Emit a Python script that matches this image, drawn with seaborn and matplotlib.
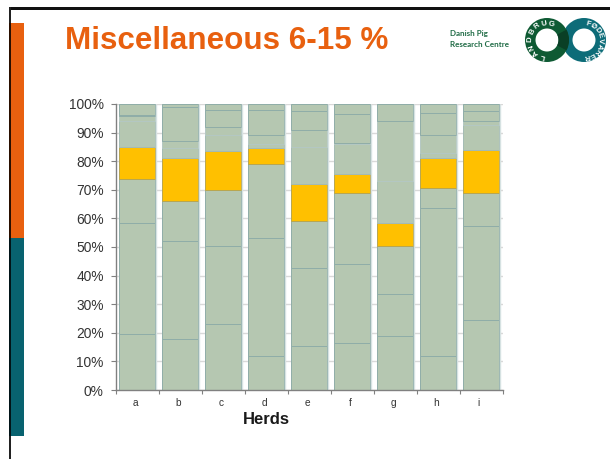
import numpy as np
import seaborn as sns
import matplotlib.pyplot as plt
from matplotlib.patches import Rectangle, Wedge
from matplotlib.transforms import ScaledTranslation

herds = ['a', 'b', 'c', 'd', 'e', 'f', 'g', 'h', 'i']

# share of each feed group per herd, bottom to top
seg1 = [19.5, 18.0, 23.0, 12.0, 15.5, 16.5, 19.0, 12.0, 24.5]
seg2 = [39.0, 34.0, 27.5, 41.0, 27.0, 27.5, 14.5, 51.5, 33.0]
seg3 = [15.3, 14.0, 19.5, 26.0, 16.5, 25.0, 17.0, 7.0, 11.5]
misc = [11.0, 15.0, 13.5, 5.5, 13.0, 6.5, 8.0, 10.5, 15.0]
seg5 = [9.2, 3.5, 5.5, 1.5, 13.0, 10.5, 14.5, 2.0, 8.5]
seg6 = [1.8, 2.5, 3.0, 3.0, 6.0, 0.5, 21.0, 6.0, 1.5]
seg7 = [0.2, 12.0, 6.0, 9.0, 6.5, 10.0, 6.0, 8.0, 3.5]
seg8 = [4.0, 1.0, 2.0, 2.0, 2.5, 3.5, 0.0, 3.0, 2.5]

y_ticks = [0, 10, 20, 30, 40, 50, 60, 70, 80, 90, 100]

title = 'Miscellaneous 6-15 %'
logo_left = 'LANDBRUG'
logo_right = 'FØDEVARER'

GREEN = '#B5C7B1'
YELLOW = '#FFC000'
ORANGE = '#E8600F'
TEAL = '#08626F'
EDGE = '#8FADA8'

sns.set_theme(style='white')
plt.rcParams['font.family'] = ['Liberation Sans', 'DejaVu Sans']

W, H = 610, 459
fig = plt.figure(figsize=(W / 100, H / 100), dpi=100)
ax = fig.add_axes([115.5 / W, 1 - 390 / H, 387 / W, 286 / H])

bottom = np.zeros(len(herds))
series = [(seg1, GREEN, EDGE), (seg2, GREEN, EDGE), (seg3, GREEN, EDGE),
          (misc, YELLOW, '#B8A650'), (seg5, GREEN, '#A4BBB4'), (seg6, GREEN, '#B4C8C3'),
          (seg7, GREEN, EDGE), (seg8, GREEN, EDGE)]
for vals, col, edge in series:
    sns.barplot(x=herds, y=vals, bottom=bottom, color=col, saturation=1, width=36 / 43,
                edgecolor=edge, linewidth=0.7, errorbar=None, ax=ax)
    bottom = bottom + np.array(vals)

# pale shadow down the right side of each bar
ax.vlines(np.arange(len(herds)) + 0.44, 0, bottom, color='#D6E2E2', linewidth=1, zorder=1.5)

ax.set_ylim(0, 100)
ax.set_xlim(-0.5, 8.5)
ax.set_yticks(y_ticks)
ax.set_yticklabels([f'{t}%' for t in y_ticks], fontsize=9.9, color='#333333')
ax.set_axisbelow(True)
ax.yaxis.grid(True, color='#D9D9D9', linewidth=1)
ax.xaxis.grid(False)
for side in ['top', 'right']:
    ax.spines[side].set_visible(False)
for side in ['left', 'bottom']:
    ax.spines[side].set_color('#808080')
    ax.spines[side].set_linewidth(1)

ax.tick_params(axis='y', length=3.5, width=0.8, color='#808080', pad=5, left=True)
ax.set_xticks(np.arange(len(herds)))
ax.set_xticklabels(herds, fontsize=7.3, color='#333333')
ax.set_xticks(np.arange(len(herds) + 1) - 0.5, minor=True)
ax.tick_params(axis='x', which='major', length=0, pad=6)
ax.tick_params(axis='x', which='minor', length=3, width=0.8, color='#808080', bottom=True)
shift = ScaledTranslation(-2 / 100, 0, fig.dpi_scale_trans)
for lab in ax.get_xticklabels():
    lab.set_transform(lab.get_transform() + shift)
ax.set_xlabel('Herds', fontsize=12, fontweight='bold', color='#1a1a1a', x=0.389, labelpad=3)
ax.set_ylabel('')

# slide furniture in pixel coordinates
over = fig.add_axes([0, 0, 1, 1], zorder=5)
over.set_xlim(0, W)
over.set_ylim(H, 0)
over.axis('off')
over.add_patch(Rectangle((9, 7), W - 9, 2.5, color='#111111', lw=0))
over.add_patch(Rectangle((9, 7), 2, H - 7, color='#222222', lw=0))
over.add_patch(Rectangle((11, 23), 13, 215, color=ORANGE, lw=0))
over.add_patch(Rectangle((11, 238), 13, 198, color=TEAL, lw=0))
over.add_patch(Rectangle((9, 23), 2, 215, color='#2a0f00', lw=0))
over.add_patch(Rectangle((9, 238), 2, 198, color='#021418', lw=0))

over.text(65, 49, title, fontsize=22.6, fontweight='bold', color=ORANGE, va='baseline')
over.text(450, 36, 'Danish Pig', fontsize=5.8, color='#1F6B45', family='Lato', fontweight='bold', va='baseline')
over.text(450, 47, 'Research Centre', fontsize=5.8, color='#1F6B45', family='Lato', fontweight='bold', va='baseline')

# logo rings
cx1, cx2, cy = 547, 584, 40
over.add_patch(Wedge((cx2, cy), 22, 0, 360, width=10.5, color='#0D6C78', lw=0))
over.add_patch(Wedge((cx1, cy), 22, 0, 360, width=10.5, color='#0E5A33', lw=0))
over.add_patch(Wedge((cx1, cy), 22, -28, 28, width=10.5, color='#0A3F26', lw=0))


def ring_text(word, cx, start, stop):
    for ch, ang in zip(word, np.linspace(start, stop, len(word))):
        r = np.radians(ang)
        over.text(cx + 16.7 * np.sin(r), cy - 16.7 * np.cos(r), ch, fontsize=5.6, color='white',
                  fontweight='bold', ha='center', va='center', rotation=-ang)


ring_text(logo_left, cx1, -165, 15)
ring_text(logo_right, cx2, 15, 170)

fig.savefig('out.png', dpi=100)
